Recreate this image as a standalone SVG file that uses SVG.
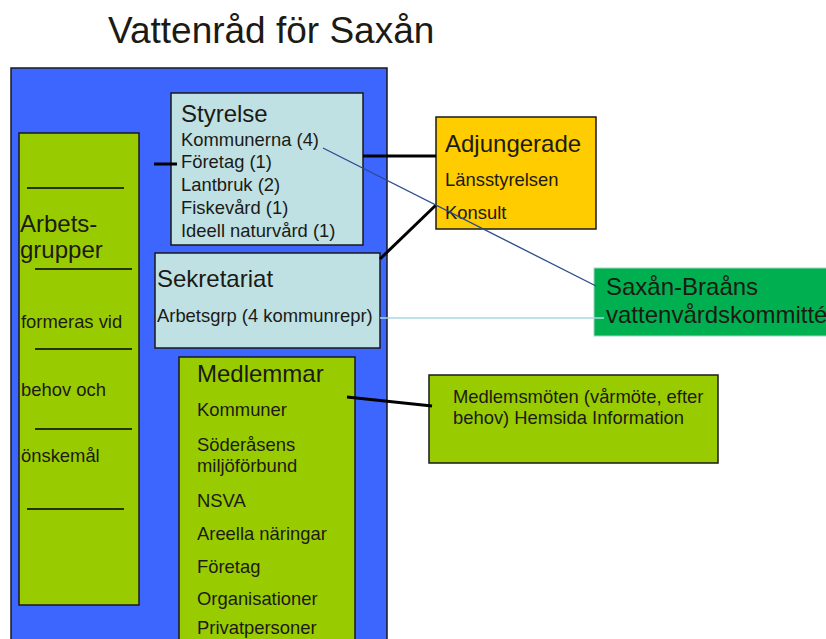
<svg xmlns="http://www.w3.org/2000/svg" width="826" height="639" viewBox="0 0 826 639">
<style>
text{font-family:"Liberation Sans",Arial,sans-serif;fill:#1c1a14}
.h{font-size:24px}
.s{font-size:18.4px}
.box{stroke:#1a1a1a;stroke-width:1.5}
.conn{stroke:#000;stroke-width:3;fill:none}
.sep{stroke:#000;stroke-width:1.5}
</style>
<rect width="826" height="639" fill="#fff"/>
<text x="108" y="43" style="font-size:37px">Vattenråd för Saxån</text>
<g id="container">
<rect class="box" x="11" y="68" width="376" height="580" fill="#3d66ff"/>
</g>
<g id="arbetsgrupper">
<rect class="box" x="19" y="133" width="120" height="472" fill="#99cc00"/>
<line class="sep" x1="27" y1="188" x2="124" y2="188"/>
<line class="sep" x1="35" y1="269" x2="132" y2="269"/>
<line class="sep" x1="35" y1="349" x2="132" y2="349"/>
<line class="sep" x1="35" y1="429" x2="132" y2="429"/>
<line class="sep" x1="27" y1="509" x2="124" y2="509"/>
<text class="h" x="20" y="232">Arbets-</text>
<text class="h" x="20" y="258">grupper</text>
<text class="s" x="21" y="328">formeras vid</text>
<text class="s" x="21" y="396">behov och</text>
<text class="s" x="21" y="462">önskemål</text>
</g>
<g id="styrelse">
<rect class="box" x="171" y="93" width="192" height="152" fill="#bfe1e4"/>
<text class="h" x="181" y="122">Styrelse</text>
<text class="s" x="181" y="146">Kommunerna (4)</text>
<text class="s" x="181" y="168">Företag (1)</text>
<text class="s" x="181" y="191">Lantbruk (2)</text>
<text class="s" x="181" y="214">Fiskevård (1)</text>
<text class="s" x="181" y="237">Ideell naturvård (1)</text>
</g>
<g id="sekretariat">
<rect class="box" x="155" y="253" width="225" height="95" fill="#bfe1e4"/>
<text class="h" x="157" y="287">Sekretariat</text>
<text class="s" x="157" y="322">Arbetsgrp (4 kommunrepr)</text>
</g>
<g id="medlemmar">
<rect class="box" x="179" y="357" width="176" height="300" fill="#99cc00"/>
<text class="h" x="197" y="382">Medlemmar</text>
<text class="s" x="197" y="416">Kommuner</text>
<text class="s" x="197" y="451">Söderåsens</text>
<text class="s" x="197" y="472">miljöförbund</text>
<text class="s" x="197" y="507">NSVA</text>
<text class="s" x="197" y="540">Areella  näringar</text>
<text class="s" x="197" y="573">Företag</text>
<text class="s" x="197" y="605">Organisationer</text>
<text class="s" x="197" y="634">Privatpersoner</text>
</g>
<g id="adjungerade">
<rect class="box" x="436" y="117" width="160" height="112" fill="#ffcc00"/>
<text class="h" x="445" y="152">Adjungerade</text>
<text class="s" x="445" y="186">Länsstyrelsen</text>
<text class="s" x="445" y="219">Konsult</text>
</g>
<g id="saxan">
<rect x="594" y="268" width="240" height="68" fill="#00b050" stroke="#9fd8c0" stroke-width="1"/>
<text class="h" x="606" y="295">Saxån-Braåns</text>
<text class="h" x="606" y="323">vattenvårdskommitté</text>
</g>
<g id="medlemsmoten">
<rect class="box" x="429" y="375" width="289" height="88" fill="#99cc00"/>
<text class="s" x="453" y="403">Medlemsmöten (vårmöte, efter</text>
<text class="s" x="453" y="424">behov) Hemsida Information</text>
</g>
<g id="connectors">
<line class="conn" x1="154" y1="164" x2="177" y2="164"/>
<line class="conn" x1="363" y1="156" x2="436" y2="156"/>
<line class="conn" x1="380" y1="259" x2="436" y2="205"/>
<line class="conn" x1="347" y1="397" x2="432" y2="406"/>
<line x1="323" y1="148" x2="596" y2="286" stroke="#2b4b8f" stroke-width="1.3"/>
<line x1="380" y1="318" x2="604" y2="318" stroke="#a8d8e0" stroke-width="1.5"/>
</g>
</svg>
